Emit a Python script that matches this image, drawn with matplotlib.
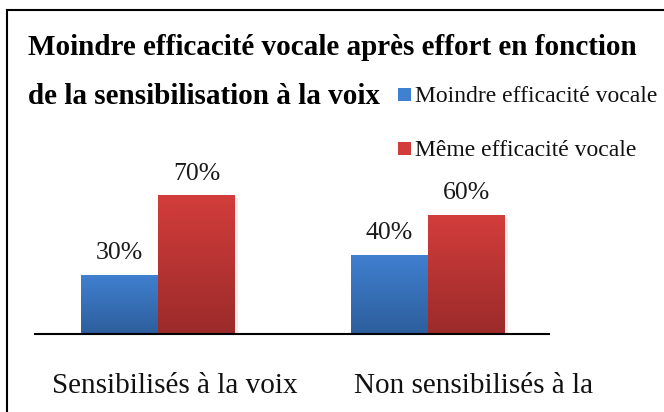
import numpy as np
import matplotlib
matplotlib.use("Agg")
import matplotlib.pyplot as plt
from matplotlib.colors import LinearSegmentedColormap
from matplotlib.lines import Line2D
from matplotlib.patches import Rectangle
import matplotlib.patheffects as pe

# data
categories = ["Sensibilisés à la voix", "Non sensibilisés à la"]
series_names = ["Moindre efficacité vocale", "Même efficacité vocale"]
moindre = [30, 40]
meme = [70, 60]
title_lines = ["Moindre efficacité vocale après effort en fonction",
               "de la sensibilisation à la voix"]

W, H = 664, 412
plt.rcParams['font.family'] = ['Liberation Serif', 'DejaVu Serif']

fig = plt.figure(figsize=(W / 100, H / 100), dpi=100)

def px(x, y):
    # pixel coords (top-left origin) -> figure fraction
    return x / W, 1 - y / H

# axes placed in pixel space: x 35..549, y 136..334
ax = fig.add_axes([35 / W, (H - 334) / H, (549 - 35) / W, (334 - 136) / H])
ax.set_facecolor("none")

xpos = np.arange(len(categories))
bw = 0.285
blue_top, blue_bot = "#4080D0", "#2D5E9C"
red_top, red_bot = "#D23D3B", "#9B2B2A"

grad = np.linspace(0, 1, 256).reshape(-1, 1)
shadow = [pe.SimplePatchShadow(offset=(2, -2), alpha=0.15, shadow_rgbFace="gray"), pe.Normal()]

def gradient_bars(xs, vals, top, bot, align_left):
    cmap = LinearSegmentedColormap.from_list("g", [bot, top])
    x0s = xs - bw if align_left else xs
    bars = ax.bar(x0s, vals, width=bw, align="edge", color=top, zorder=2,
                  path_effects=shadow)
    for b in bars:
        im = ax.imshow(grad, extent=[b.get_x(), b.get_x() + b.get_width(), 0, b.get_height()],
                       origin="lower", aspect="auto", cmap=cmap, zorder=3)
        im.set_clip_path(b)
    return bars

b1 = gradient_bars(xpos, moindre, blue_top, blue_bot, True)
b2 = gradient_bars(xpos, meme, red_top, red_bot, False)

ax.set_xlim((35 - 158) / 270, (549 - 158) / 270)
ax.set_ylim(0, 100)

for bars, vals in ((b1, moindre), (b2, meme)):
    for b, v in zip(bars, vals):
        ax.text(b.get_x() + b.get_width() / 2, v + 5.5, f"{v}%", ha="center", va="bottom",
                fontsize=18.5, color="#1a1a1a", zorder=4)

for s in ["top", "right", "left"]:
    ax.spines[s].set_visible(False)
ax.spines["bottom"].set_linewidth(1.5)
ax.spines["bottom"].set_zorder(5)
ax.set_xticks([])
ax.set_yticks([])

# category labels
for lbl, cx in zip(categories, [175, 474]):
    fig.text(*px(cx, 393), lbl, ha="center", va="baseline", fontsize=21, color="#111111")

# title
fig.text(*px(28, 55), title_lines[0], ha="left", va="baseline", fontsize=21,
         fontweight="bold")
fig.text(*px(28, 104), title_lines[1], ha="left", va="baseline", fontsize=21,
         fontweight="bold")

# legend, drawn by hand
for name, col, yb in zip(series_names, [blue_top, red_top], [102, 156]):
    x0, y0 = px(398, yb - 1)
    fig.add_artist(Rectangle((x0, y0), 13 / W, 13 / H, transform=fig.transFigure,
                             facecolor=col, edgecolor="none"))
    fig.text(*px(415, yb), name, ha="left", va="baseline", fontsize=17, color="#111111")

# outer frame (top and left edges visible)
fig.add_artist(Line2D([7 / W, 7 / W], [0, 1 - 10 / H], transform=fig.transFigure,
                      color="black", lw=1.5))
fig.add_artist(Line2D([7 / W, 1], [1 - 10 / H, 1 - 10 / H], transform=fig.transFigure,
                      color="black", lw=1.5))

fig.savefig("out.png", dpi=100)
